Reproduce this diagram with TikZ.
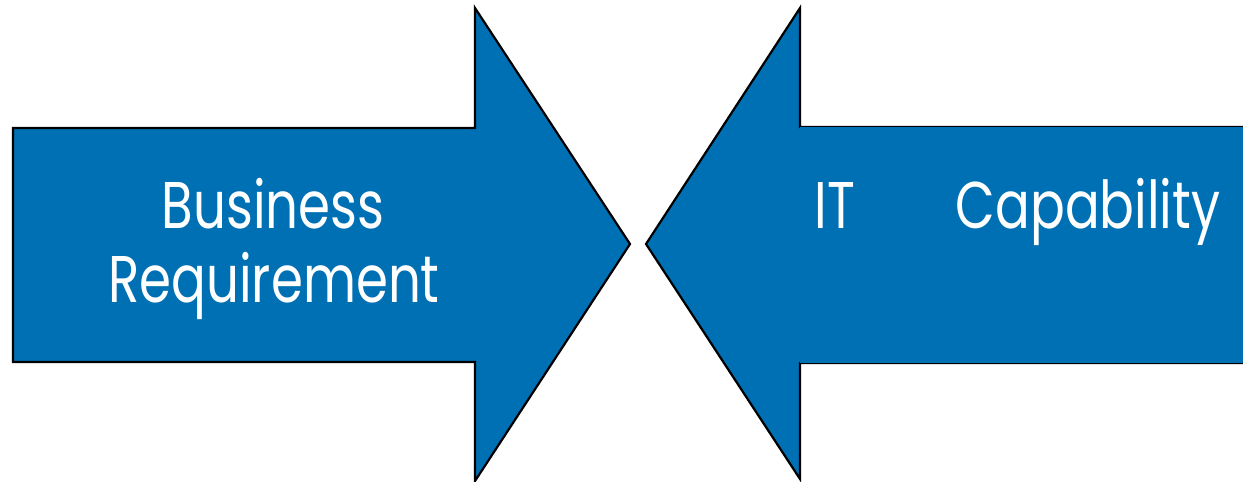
\documentclass[tikz,border=0pt]{standalone}
\usepackage{fontspec}
\setmainfont{Poppins}
\definecolor{arrowblue}{RGB}{0,112,180}
\newcommand{\narrowtxt}[1]{\scalebox{0.78}[1]{#1}}
\tikzset{
  bigarrow/.style={fill=arrowblue, draw=black, line width=2.2pt, line join=miter},
  label/.style={text=white, font=\fontsize{66}{66}\selectfont, inner sep=0pt, anchor=base}
}
\begin{document}
\begin{tikzpicture}[x=1pt,y=-1pt]
\useasboundingbox (0,0) rectangle (1243,482);
\draw[bigarrow] (13,128) -- (475,128) -- (475,8) -- (630,244) -- (475,481) -- (475,362) -- (13,362) -- cycle;
\draw[bigarrow] (1250,127) -- (800,127) -- (800,8) -- (646,244) -- (800,479) -- (800,363) -- (1250,363);
\fill[arrowblue] (800,127) rectangle (1250,363);
\node[label] (biz) at (273,228) {\narrowtxt{Business}};
\node[label] (req) at (274,302) {\narrowtxt{Requirement}};
\node[label] (it) at (835,228) {\narrowtxt{IT}};
\node[label] (cap) at (1088,228) {\narrowtxt{Capability}};
\end{tikzpicture}
\end{document}
